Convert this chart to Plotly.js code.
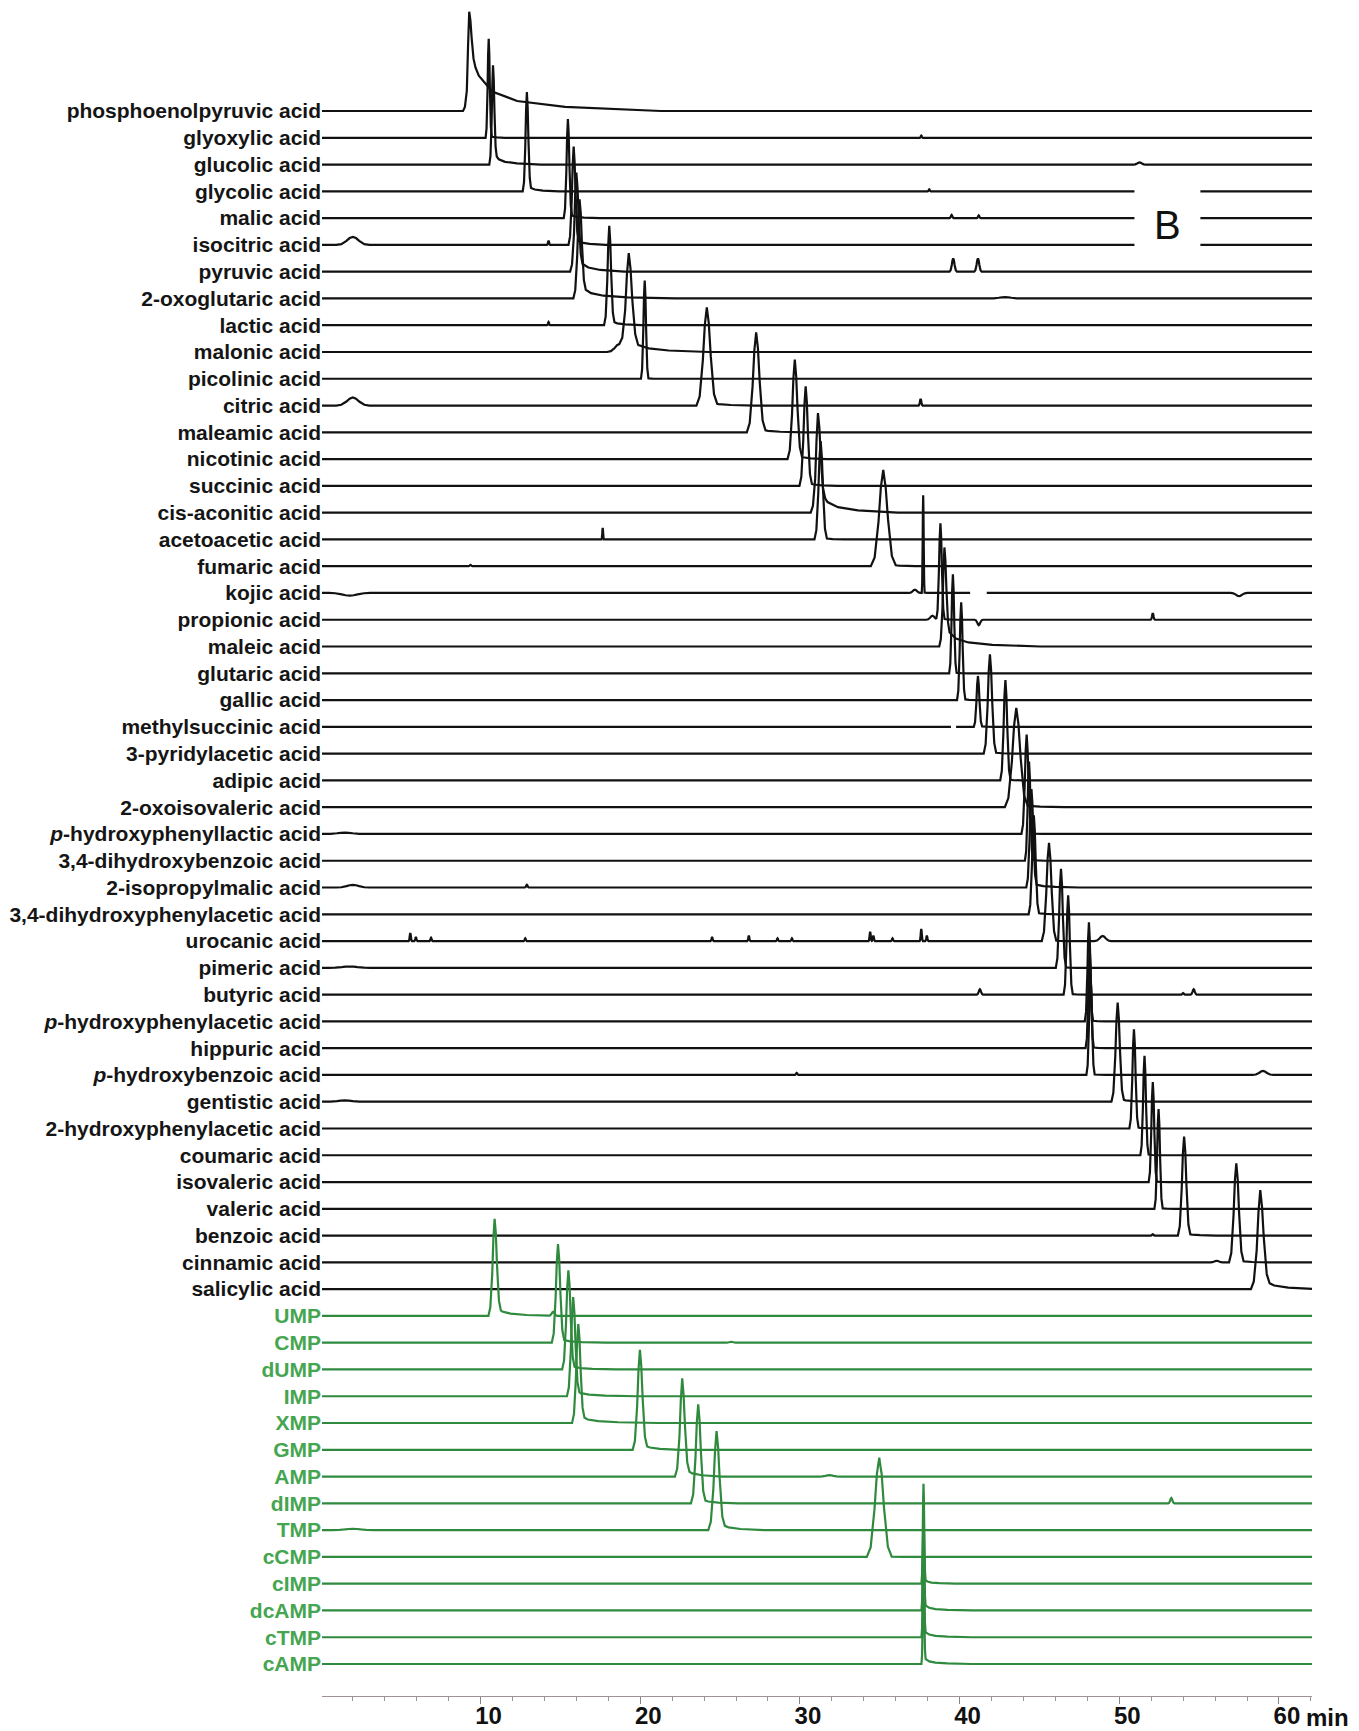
<!DOCTYPE html>
<html>
<head>
<meta charset="utf-8">
<script src="https://cdn.plot.ly/plotly-3.0.1.min.js"></script>
<style>html,body{margin:0;padding:0;background:#fff}#chart{width:1359px;height:1731px}</style>
</head>
<body>
<div id="chart"></div>
<script>
// ---------- data ----------
const compounds = [
"phosphoenolpyruvic acid","glyoxylic acid","glucolic acid","glycolic acid","malic acid","isocitric acid",
"pyruvic acid","2-oxoglutaric acid","lactic acid","malonic acid","picolinic acid","citric acid",
"maleamic acid","nicotinic acid","succinic acid","cis-aconitic acid","acetoacetic acid","fumaric acid",
"kojic acid","propionic acid","maleic acid","glutaric acid","gallic acid","methylsuccinic acid",
"3-pyridylacetic acid","adipic acid","2-oxoisovaleric acid","<i>p</i>-hydroxyphenyllactic acid",
"3,4-dihydroxybenzoic acid","2-isopropylmalic acid","3,4-dihydroxyphenylacetic acid","urocanic acid",
"pimeric acid","butyric acid","<i>p</i>-hydroxyphenylacetic acid","hippuric acid","<i>p</i>-hydroxybenzoic acid",
"gentistic acid","2-hydroxyphenylacetic acid","coumaric acid","isovaleric acid","valeric acid",
"benzoic acid","cinnamic acid","salicylic acid",
"UMP","CMP","dUMP","IMP","XMP","GMP","AMP","dIMP","TMP","cCMP","cIMP","dcAMP","cTMP","cAMP"];
const nucleotideStart = 45;   // first green (nucleotide) trace

// apex retention time (min)
const retentionTime = [
9.29,10.51,10.78,12.90,15.47,15.83,16.00,16.20,18.06,19.28,20.28,24.17,
27.26,29.68,30.36,31.13,31.30,35.22,37.72,38.80,39.05,39.58,40.10,41.15,
41.90,42.87,43.55,44.20,44.35,44.50,44.65,45.60,46.35,46.80,48.10,48.15,48.20,
49.90,50.92,51.58,52.10,52.46,54.06,57.33,58.83,
10.88,14.85,15.50,15.80,16.12,19.98,22.63,23.63,24.78,34.97,37.74,37.74,37.74,37.74];
// apex height (in trace-spacing units)
const peakHeight = [
3.71,3.70,3.71,3.71,3.70,3.67,3.70,3.70,3.71,3.67,3.67,3.67,
3.73,3.72,3.72,3.72,3.67,3.60,3.65,3.60,3.70,3.70,3.65,1.90,
3.71,3.75,3.71,3.71,3.70,3.68,3.70,3.67,3.70,3.71,3.70,3.70,3.70,
3.70,3.70,3.71,3.73,3.73,3.70,3.70,3.70,
3.63,3.68,3.70,3.70,3.70,3.73,3.67,3.70,3.70,3.71,3.73,3.70,3.70,3.70];
// peak width at half height (min)
const peakWidth = [
0.30,0.15,0.18,0.20,0.20,0.25,0.30,0.30,0.25,0.45,0.18,0.50,
0.45,0.35,0.30,0.35,0.30,0.60,0.07,0.20,0.25,0.18,0.20,0.20,
0.30,0.25,0.55,0.25,0.20,0.25,0.25,0.35,0.25,0.22,0.20,0.20,0.20,
0.30,0.22,0.20,0.20,0.20,0.30,0.35,0.45,
0.30,0.30,0.30,0.30,0.30,0.35,0.35,0.35,0.40,0.60,0.10,0.10,0.10,0.10];
// tailing after the apex: level at apex and length (min)
const tailHeight = [
2.20,0.20,0.60,0.40,0.30,0.50,0.90,0.60,0.40,0.80,0.10,0.30,
0.30,0.40,0.30,1.20,0.20,0.30,0.05,0.15,0.90,0.10,0.15,0.10,
0.20,0.15,0.30,0.15,0.15,0.30,0.20,0.15,0.10,0.10,0.15,0.15,0.10,
0.30,0.15,0.15,0.10,0.10,0.20,0.20,0.80,
0.50,0.30,0.30,0.35,0.40,0.50,0.70,0.40,0.60,0.15,0.25,0.30,0.30,0.30];
const tailLength = [
12,1,3,2,2,2,3,6,2,5,1,3,
3,2,2,5,1.5,2,0.5,1,6,1,1,1,
1.5,1,3,1,1,3,1.5,1,1,1,1,1,1,
2,1.5,1,1,1,2,2,3.5,
4,3,3,4,5,2.5,2.5,2.5,3,1.5,2,3,3,3];
// small extra peaks / dips: [trace, time, height, width]
const minorPeaks = [
[5,2.0,0.30,0.8],[5,14.26,0.15,0.08],[11,2.0,0.30,0.8],[11,37.56,0.25,0.10],
[8,14.26,0.12,0.08],[6,39.6,0.50,0.18],[6,41.15,0.50,0.18],[4,39.5,0.12,0.10],[4,41.2,0.10,0.10],
[2,51.27,0.08,0.3],[1,37.6,0.08,0.08],[3,38.1,0.08,0.08],[16,17.65,0.43,0.06],
[18,1.8,-0.10,1.0],[18,37.2,0.12,0.3],[18,57.5,-0.12,0.4],
[19,38.3,0.15,0.3],[19,41.2,-0.20,0.2],[19,52.1,0.25,0.10],
[9,18.7,0.30,0.6],[29,2.0,0.10,0.8],[29,12.9,0.10,0.10],[27,1.5,0.05,1.0],
[31,5.6,0.30,0.08],[31,5.95,0.15,0.08],[31,6.9,0.12,0.08],[31,12.8,0.10,0.08],[31,24.5,0.15,0.08],
[31,26.8,0.20,0.08],[31,28.6,0.10,0.08],[31,29.5,0.10,0.08],[31,34.4,0.35,0.08],[31,34.6,0.20,0.08],
[31,35.8,0.10,0.08],[31,37.6,0.45,0.08],[31,37.95,0.20,0.08],[31,48.96,0.19,0.4],
[33,41.27,0.20,0.15],[33,54.66,0.20,0.15],[33,54.0,0.06,0.1],
[36,59.0,0.15,0.5],[36,29.8,0.08,0.1],[42,52.1,0.05,0.1],[43,56.1,0.06,0.3],
[37,1.5,0.05,1.0],[32,1.8,0.05,1.0],[7,42.85,0.05,0.8],[17,9.37,0.05,0.1],
[45,14.55,0.15,0.2],[52,53.26,0.20,0.15],[51,31.85,0.05,0.5],[53,2.0,0.05,1.0],[46,25.7,0.03,0.3]];
// breaks in the recorded line: [trace, from, to]
const traceGaps = [[18,40.66,41.7],[23,39.46,39.78]];

const xTickValues = [10,20,30,40,50,60];
const xTickLabels = ["10","20","30","40","50","60"];
const xMinorValues = [2,4,6,8,12,14,16,18,22,24,26,28,32,34,36,38,42,44,46,48,52,54,56,58,62];

// normalised peak profile and tail profile
const PROFILE_OFFSET = [-1.3,-0.9,-0.5,-0.25,0,0.25,0.5,0.9,1.3];
const PROFILE_LEVEL  = [0,0.1,0.5,0.85,1,0.85,0.5,0.1,0];
const TAIL_OFFSET = [0,0.05,0.12,0.25,0.5,1];
const TAIL_LEVEL  = [1,0.6,0.33,0.17,0.07,0];

// ---------- build the traces ----------
const X0 = 0.07, X1 = 62.07;
function feat(rt,h,w){return {xs:PROFILE_OFFSET.map(o=>rt+o*w), ys:PROFILE_LEVEL.map(f=>f*h)};}
function tailFeat(rt,a,w,L){
  const xs=[rt-0.5*w].concat(TAIL_OFFSET.map(o=>rt+o*L));
  const ys=[0].concat(TAIL_LEVEL.map(f=>f*a));
  return {xs,ys};
}
function evalF(f,x){
  const xs=f.xs, ys=f.ys, n=xs.length;
  if(x<=xs[0]||x>=xs[n-1]) return 0;
  for(let k=0;k<n-1;k++){
    if(x>=xs[k]&&x<=xs[k+1]){
      const d=xs[k+1]-xs[k]; if(d<=0) return ys[k];
      return ys[k]+(ys[k+1]-ys[k])*(x-xs[k])/d;
    }
  }
  return 0;
}
const traces=[];
for(let i=0;i<compounds.length;i++){
  const a=tailHeight[i];
  const fs=[feat(retentionTime[i],peakHeight[i]-a,peakWidth[i]),
            tailFeat(retentionTime[i],a,peakWidth[i],tailLength[i])];
  minorPeaks.filter(m=>m[0]===i).forEach(m=>fs.push(feat(m[1],m[2],m[3])));
  const gaps=traceGaps.filter(g=>g[0]===i);
  let pts=[X0,X1];
  fs.forEach(f=>pts=pts.concat(f.xs));
  gaps.forEach(g=>{pts.push(g[1],g[2]);});
  pts=Array.from(new Set(pts.map(v=>+v.toFixed(4)))).filter(v=>v>=X0&&v<=X1).sort((p,q)=>p-q);
  const xs=[], ys=[];
  pts.forEach(x=>{
    const inGap=gaps.some(g=>x>g[1]&&x<g[2]);
    if(inGap) return;
    let v=0; fs.forEach(f=>v+=evalF(f,x));
    xs.push(x); ys.push(-i+v);
    const g=gaps.find(g=>Math.abs(x-g[1])<1e-6);
    if(g){xs.push((g[1]+g[2])/2); ys.push(null);}
  });
  const green=i>=nucleotideStart;
  traces.push({x:xs,y:ys,type:'scatter',mode:'lines',hoverinfo:'skip',showlegend:false,
    connectgaps:false,
    line:{color:green?'#2f8a3e':'#111111',width:2.2,simplify:false}});
}

const tickText=compounds.map((c,i)=>i>=nucleotideStart?'<span style="color:#45a550">'+c+'</span>':c);

const layout={
  width:1359,height:1731,
  margin:{l:322,r:47,t:5,b:35},
  paper_bgcolor:'#ffffff',plot_bgcolor:'#ffffff',
  xaxis:{range:[X0,X1],showgrid:false,zeroline:false,showline:true,linecolor:'#9e9292',linewidth:1,
    tickmode:'array',tickvals:xTickValues,ticktext:xTickLabels,ticks:'outside',ticklen:7,tickwidth:1,
    tickcolor:'#8e8282',ticklabelshift:8,ticklabelstandoff:-9,
    tickfont:{family:'Liberation Sans, Arial, sans-serif',size:24,color:'#111',weight:'bold'},
    minor:{tickmode:'array',tickvals:xMinorValues,ticks:'outside',ticklen:4,tickcolor:'#9e9292',tickwidth:1},
    fixedrange:true},
  yaxis:{range:[-59.195,3.959],showgrid:false,zeroline:false,showline:false,
    tickmode:'array',tickvals:compounds.map((c,i)=>-i),ticktext:tickText,ticks:'',
    tickfont:{family:'Liberation Sans, Arial, sans-serif',size:21,color:'#151515',weight:'bold'},
    fixedrange:true},
  shapes:[{type:'rect',xref:'x',yref:'y',x0:50.95,x1:55.08,y0:-2.73,y1:-5.12,
    fillcolor:'#ffffff',line:{width:0},layer:'above'}],
  annotations:[
    {x:53.0,y:-4.24,xref:'x',yref:'y',text:'B',showarrow:false,
     font:{family:'Liberation Sans, Arial, sans-serif',size:40,color:'#111'}},
    {x:60,xref:'x',y:-0.0125,yref:'paper',text:'min',showarrow:false,xanchor:'left',yanchor:'middle',xshift:25,
     font:{family:'Liberation Sans, Arial, sans-serif',size:24,color:'#111',weight:'bold'}}
  ]
};
Plotly.newPlot('chart',traces,layout,{staticPlot:true,displayModeBar:false});
</script>
</body>
</html>
